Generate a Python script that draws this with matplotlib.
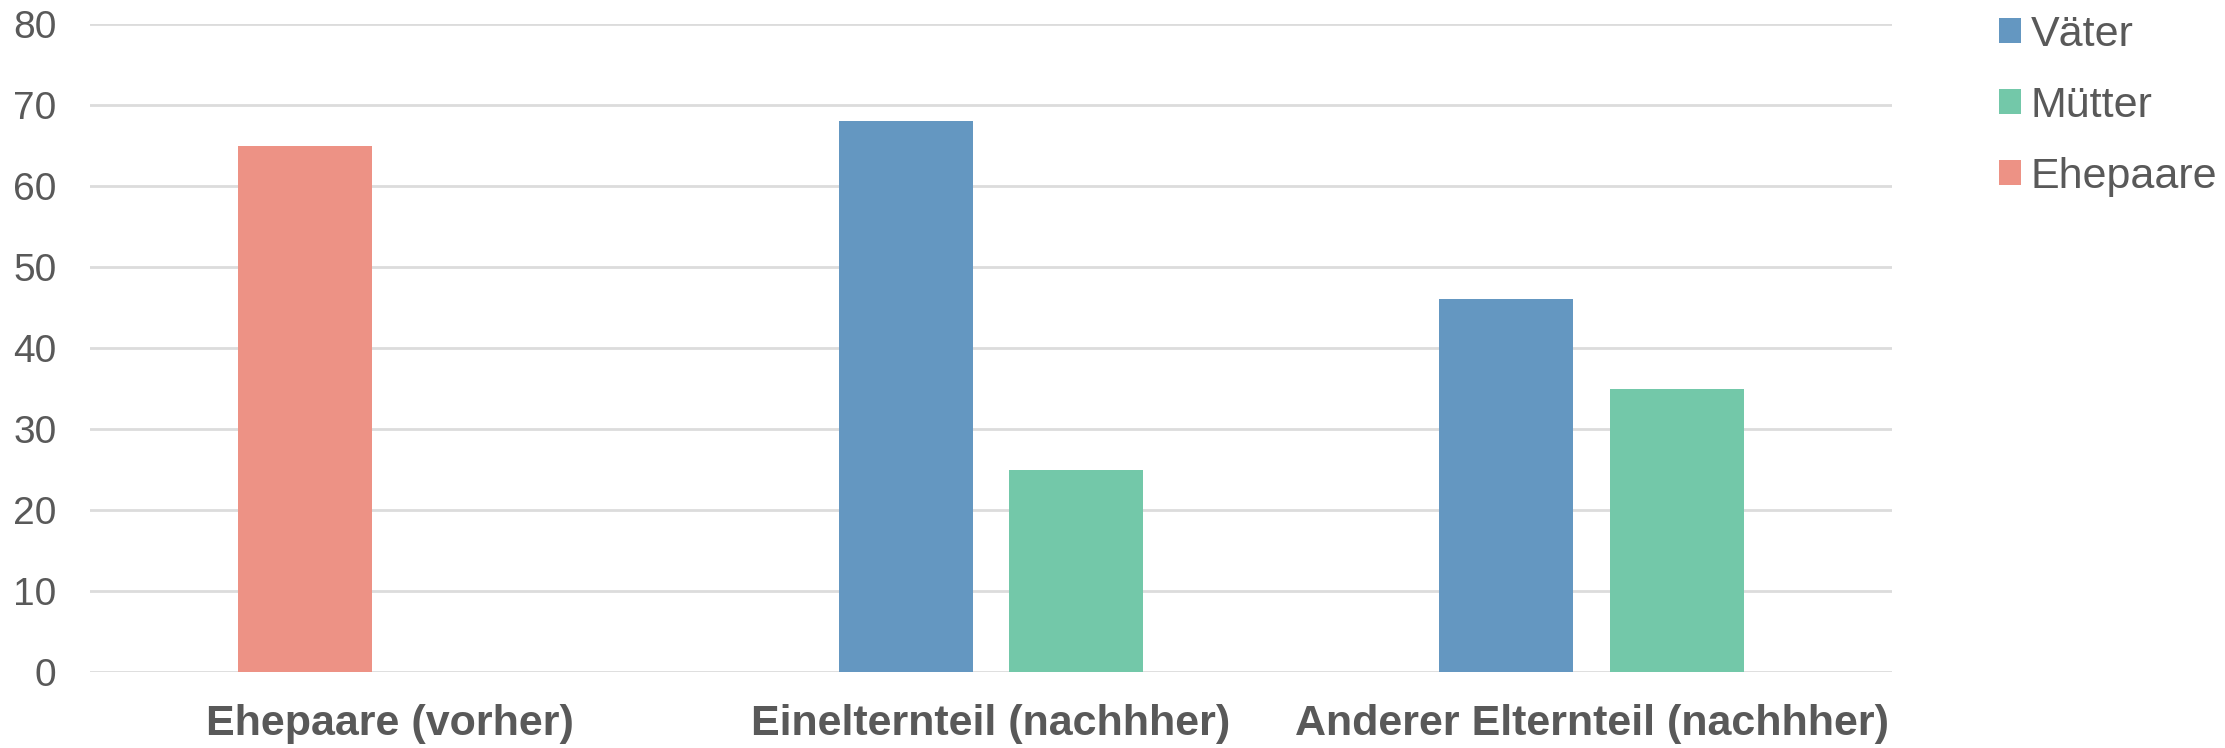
import numpy as np
import matplotlib.pyplot as plt

categories = ["Ehepaare (vorher)", "Einelternteil (nachhher)", "Anderer Elternteil (nachhher)"]
vaeter = [np.nan, 68, 46]
muetter = [np.nan, 25, 35]
ehepaare = [65, np.nan, np.nan]
yticks = [0, 10, 20, 30, 40, 50, 60, 70, 80]

plt.rcParams['font.family'] = ['Liberation Sans', 'DejaVu Sans']
grey = "#595959"

fig = plt.figure(figsize=(22.25, 7.48), dpi=100)
ax = fig.add_axes([0.0404, 0.1016, 0.8099, 0.8663])

x = np.arange(len(categories))
w = 0.223
off = 0.142
ax.bar(x - off, vaeter, w, color="#6497c1", label="Väter", zorder=3)
ax.bar(x + off, muetter, w, color="#73c8a9", label="Mütter", zorder=3)
ax.bar(x - off, ehepaare, w, color="#ed9285", label="Ehepaare", zorder=3)

ax.set_xlim(-0.5, 2.5)
ax.set_ylim(0, 80)
ax.set_yticks(yticks)
ax.set_xticks(x)
ax.set_xticklabels(categories, fontsize=31, fontweight="bold", color=grey)
ax.tick_params(axis="y", labelsize=28, labelcolor=grey, length=0, pad=24)
ax.tick_params(axis="x", length=0, pad=23)
ax.yaxis.grid(True, color="#dcdcdc", linewidth=2, zorder=0)
for s in ax.spines.values():
    s.set_visible(False)

leg = ax.legend(loc="upper left", bbox_to_anchor=(0.8965, 0.986), bbox_transform=fig.transFigure,
                frameon=False, fontsize=31, handlelength=0.52, handleheight=0.52,
                handletextpad=0.22, labelspacing=0.72, borderaxespad=0, borderpad=0.1)
for t in leg.get_texts():
    t.set_color(grey)

fig.savefig("out.png", dpi=100)
